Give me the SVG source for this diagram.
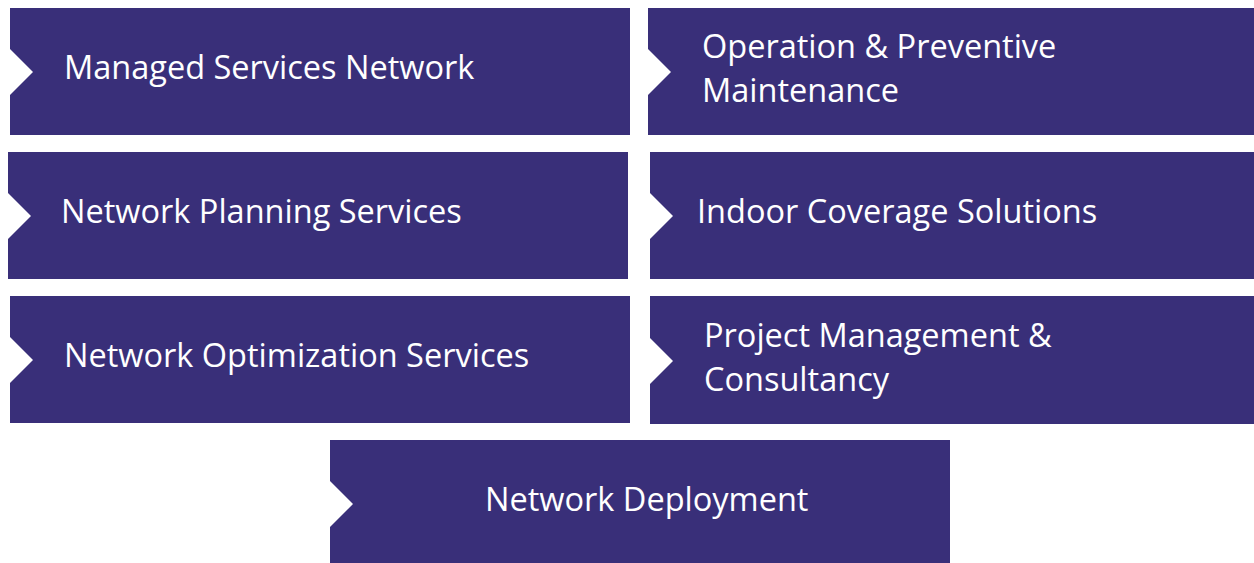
<svg xmlns="http://www.w3.org/2000/svg" width="1254" height="563" viewBox="0 0 1254 563">
<style>
.box{fill:#392F79}
.t{font-family:"Open Sans","Noto Sans",sans-serif;font-size:32.5px;fill:#FFFFFF}
</style>
<rect width="1254" height="563" fill="#FFFFFF"/>
<g id="connectors"></g>
<g id="n1"><path class="box" d="M10,8 H630 V135 H10 V95 L33,72 L10,49 Z"/><text class="t" x="64" y="79">Managed Services Network</text></g>
<g id="n2"><path class="box" d="M648,8 H1254 V135 H648 V95 L671,72 L648,49 Z"/><text class="t" x="702" y="58">Operation &amp; Preventive</text><text class="t" x="702" y="102">Maintenance</text></g>
<g id="n3"><path class="box" d="M8,152 H628 V279 H8 V239 L31,216 L8,193 Z"/><text class="t" x="61" y="223">Network Planning Services</text></g>
<g id="n4"><path class="box" d="M650,152 H1254 V279 H650 V239 L673,216 L650,193 Z"/><text class="t" x="697" y="223">Indoor Coverage Solutions</text></g>
<g id="n5"><path class="box" d="M10,296 H630 V423 H10 V383 L33,360 L10,337 Z"/><text class="t" x="64" y="367">Network Optimization Services</text></g>
<g id="n6"><path class="box" d="M650,296 H1254 V424 H650 V384 L673,361 L650,338 Z"/><text class="t" x="704" y="347">Project Management &amp;</text><text class="t" x="704" y="391">Consultancy</text></g>
<g id="n7"><path class="box" d="M330,440 H950 V563 H330 V527 L353,504 L330,481 Z"/><text class="t" x="485" y="511">Network Deployment</text></g>
</svg>
